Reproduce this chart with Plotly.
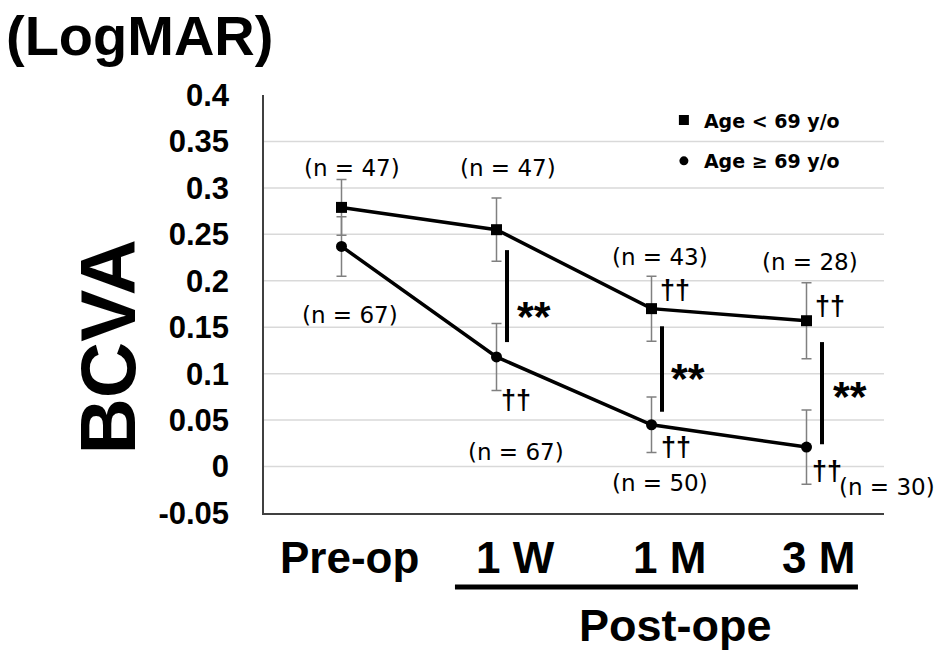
import plotly.graph_objects as go

# ---------------- data ----------------
categories = ["Pre-op", "1 W", "1 M", "3 M"]
young_mean = [0.279, 0.255, 0.170, 0.157]   # Age < 69 y/o
young_err = [0.030, 0.034, 0.035, 0.041]
old_mean = [0.237, 0.118, 0.045, 0.021]     # Age >= 69 y/o
old_err = [0.032, 0.036, 0.030, 0.040]
n_young = [47, 47, 43, 28]
n_old = [67, 67, 50, 30]
young_dagger = ["", "", "††", "††"]
old_dagger = ["", "††", "††", "††"]
sig_categories = ["1 W", "1 M", "3 M"]
sig_top = [0.233, 0.151, 0.134]
sig_bottom = [0.134, 0.059, 0.024]
y_ticks = [0.4, 0.35, 0.3, 0.25, 0.2, 0.15, 0.1, 0.05, 0, -0.05]
y_tick_text = ["0.4", "0.35", "0.3", "0.25", "0.2", "0.15", "0.1", "0.05", "0", "-0.05"]
series_names = ["Age < 69 y/o", "Age ≥ 69 y/o"]

# ---------------- label placement (style) ----------------
n_young_y = [0.3214, 0.3214, 0.2259, 0.2205]
n_young_dx = [10, 11.5, 8.5, 3.5]
n_old_y = [0.1632, 0.016, -0.0174, -0.0217]
n_old_dx = [8.5, 19.5, 8.5, 80.5]
young_dagger_y = [0, 0, 0.190, 0.173]
young_dagger_dx = [0, 0, 23.5, 23.5]
old_dagger_y = [0, 0.0717, 0.021, -0.0048]
old_dagger_dx = [0, 19.5, 24.5, 20]
sig_line_dx = [10.5, 10.5, 15.5]
sig_star_y = [0.1685, 0.1023, 0.0824]
sig_star_dx = [37, 36.5, 43.5]
cat_label_dx = [8, 19, 18, 12]

BOLD = "Liberation Sans, Arial, sans-serif"
WIDE = "DejaVu Sans, sans-serif"

fig = go.Figure()

fig.add_trace(go.Scatter(
    x=categories, y=young_mean, mode="lines+markers", showlegend=False,
    line=dict(color="black", width=3.5),
    marker=dict(symbol="square", size=11, color="black"),
    error_y=dict(type="data", array=young_err, color="#808080", thickness=1.5, width=5),
))
fig.add_trace(go.Scatter(
    x=categories, y=old_mean, mode="lines+markers", showlegend=False,
    line=dict(color="black", width=3.5),
    marker=dict(symbol="circle", size=11, color="black"),
    error_y=dict(type="data", array=old_err, color="#808080", thickness=1.5, width=5),
))
# legend-only entries (marker only, as in the original)
fig.add_trace(go.Scatter(x=[None], y=[None], mode="markers", name=series_names[0],
                         legendgroup="a", marker=dict(symbol="square", size=10, color="black")))
fig.add_trace(go.Scatter(x=[None], y=[None], mode="markers", name=series_names[1],
                         legendgroup="b", marker=dict(symbol="circle", size=9, color="black")))

shapes = []
# horizontal gridlines (no line at the top value, bottom is the axis line)
for v in y_ticks:
    if v != max(y_ticks) and v != min(y_ticks):
        shapes.append(dict(type="line", xref="paper", yref="y", x0=0, x1=1, y0=v, y1=v,
                           line=dict(color="#d9d9d9", width=1.5), layer="below"))
# significance bars
for c, t, b, dx in zip(sig_categories, sig_top, sig_bottom, sig_line_dx):
    i = categories.index(c)
    shapes.append(dict(type="line", xref="x", yref="y", xsizemode="pixel", xanchor=i,
                       x0=dx, x1=dx, y0=b, y1=t, line=dict(color="black", width=4)))
# line under post-operative labels
shapes.append(dict(type="line", xref="paper", yref="paper", x0=0.308, x1=0.958,
                   y0=-0.177, y1=-0.177, line=dict(color="black", width=5)))

ann = []
for i, c in enumerate(categories):
    ann.append(dict(x=i, y=0, xref="x", yref="paper", yshift=-44, xshift=cat_label_dx[i],
                    text=c, showarrow=False, xanchor="center", yanchor="middle",
                    font=dict(family=BOLD, size=44, color="black", weight="bold")))
    ann.append(dict(x=i, y=n_young_y[i], xref="x", yref="y", xshift=n_young_dx[i],
                    text=f"(n = {n_young[i]})", showarrow=False,
                    xanchor="center", yanchor="middle",
                    font=dict(family=WIDE, size=23, color="black")))
    ann.append(dict(x=i, y=n_old_y[i], xref="x", yref="y", xshift=n_old_dx[i],
                    text=f"(n = {n_old[i]})", showarrow=False,
                    xanchor="center", yanchor="middle",
                    font=dict(family=WIDE, size=23, color="black")))
    if young_dagger[i]:
        ann.append(dict(x=i, y=young_dagger_y[i], xref="x", yref="y", xshift=young_dagger_dx[i],
                        text=young_dagger[i], showarrow=False,
                        xanchor="center", yanchor="middle",
                        font=dict(family=BOLD, size=27, color="black", weight="bold")))
    if old_dagger[i]:
        ann.append(dict(x=i, y=old_dagger_y[i], xref="x", yref="y", xshift=old_dagger_dx[i],
                        text=old_dagger[i], showarrow=False,
                        xanchor="center", yanchor="middle",
                        font=dict(family=BOLD, size=27, color="black", weight="bold")))
for c, sy, dx in zip(sig_categories, sig_star_y, sig_star_dx):
    ann.append(dict(x=categories.index(c), y=sy, xref="x", yref="y", xshift=dx, yshift=-6,
                    text="**", showarrow=False, xanchor="center", yanchor="middle",
                    font=dict(family=BOLD, size=43, color="black", weight="bold")))

ann.append(dict(x=0.663, y=-0.270, xref="paper", yref="paper", text="Post-ope",
                xanchor="center", yanchor="middle",
                showarrow=False, font=dict(family=BOLD, size=45, color="black", weight="bold")))
ann.append(dict(x=-0.2516, y=0.396, xref="paper", yref="paper", text="BCVA", textangle=-90,
                xanchor="center", yanchor="middle",
                showarrow=False, font=dict(family=BOLD, size=78, color="black", weight="bold")))
ann.append(dict(x=-0.4195, y=1.142, xref="paper", yref="paper", text="(LogMAR)",
                xanchor="left", yanchor="middle", showarrow=False,
                font=dict(family=BOLD, size=56, color="black", weight="bold")))

fig.update_layout(
    width=939, height=651,
    margin=dict(l=264, r=55, t=95, b=138),
    paper_bgcolor="white", plot_bgcolor="white",
    shapes=shapes, annotations=ann,
    legend=dict(x=0.645, y=0.985, xanchor="left", yanchor="top",
                font=dict(family=WIDE, size=19, color="black", weight="bold"),
                tracegroupgap=13, bgcolor="rgba(0,0,0,0)", itemwidth=30),
    showlegend=True,
)
fig.update_xaxes(type="category", range=[-0.5, 3.5], showticklabels=False, showgrid=False,
                 showline=True, linecolor="#404040", linewidth=1.5, zeroline=False, ticks="")
fig.update_yaxes(range=[-0.05, 0.4], tickvals=y_ticks, ticktext=y_tick_text,
                 showgrid=False, zeroline=False, showline=True, linecolor="#404040",
                 linewidth=1.5, ticks="", ticklabelstandoff=27,
                 tickfont=dict(family=BOLD, size=31, color="black", weight="bold"))

fig.write_html("out.html", config={"displayModeBar": False},
               post_script="document.body.style.margin='0';document.body.style.overflow='hidden';")
